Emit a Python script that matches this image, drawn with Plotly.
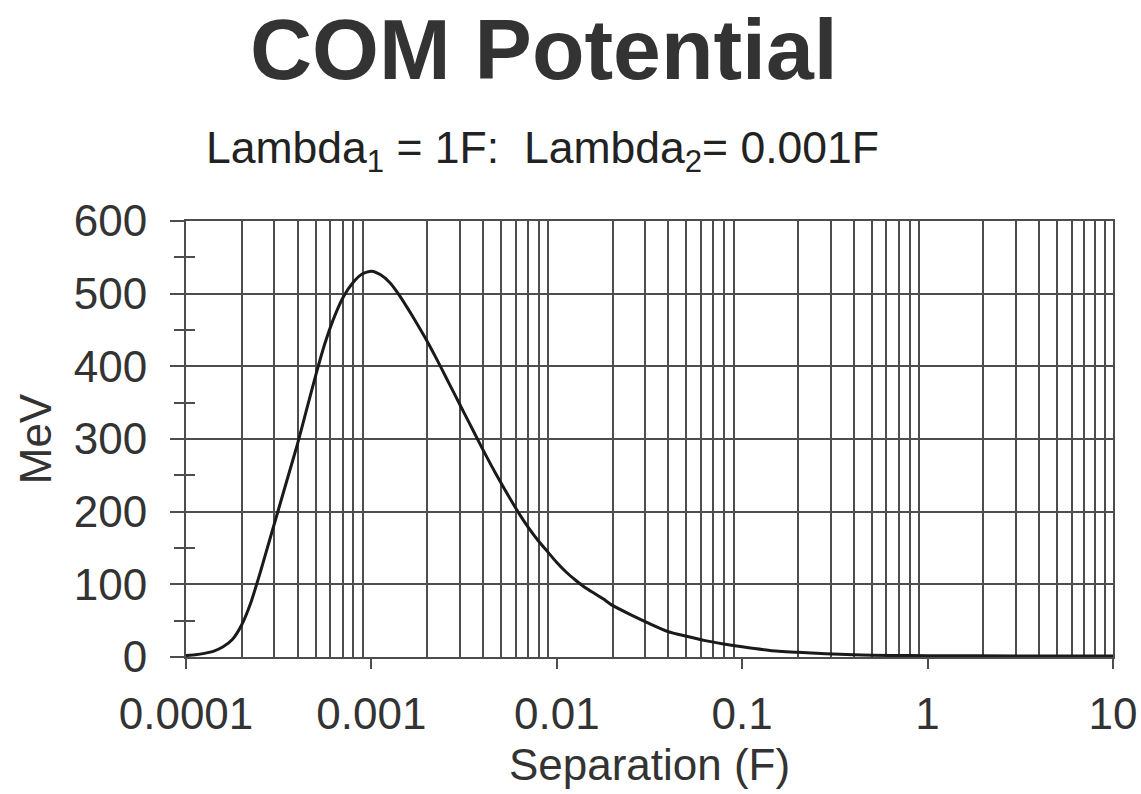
import plotly.graph_objects as go

# Curve (Separation in F, potential in MeV)
separation = [1.000e-4, 1.122e-4, 1.259e-4, 1.413e-4, 1.585e-4, 1.778e-4, 1.995e-4,
              2.239e-4, 2.512e-4, 2.818e-4, 3.162e-4, 3.548e-4, 3.981e-4, 4.467e-4,
              5.012e-4, 5.623e-4, 6.310e-4, 7.079e-4, 7.943e-4, 8.913e-4, 1.000e-3,
              1.122e-3, 1.259e-3, 1.413e-3, 1.585e-3, 1.778e-3, 1.995e-3, 2.239e-3,
              2.512e-3, 2.818e-3, 3.162e-3, 3.548e-3, 3.981e-3, 4.467e-3, 5.012e-3,
              5.623e-3, 6.310e-3, 7.079e-3, 7.943e-3, 8.913e-3, 1.000e-2, 1.122e-2,
              1.259e-2, 1.413e-2, 1.585e-2, 1.778e-2, 1.995e-2, 2.512e-2, 3.162e-2,
              3.981e-2, 5.012e-2, 6.310e-2, 7.943e-2, 0.1000, 0.1413, 0.1995,
              0.2818, 0.3981, 0.6310, 1.0, 3.162, 10.0]
mev = [2, 3, 5, 8, 14, 24, 44,
       75, 116, 160, 204, 248, 292, 340,
       388, 432, 468, 496, 515, 527, 531,
       526, 515, 498, 478, 457, 435, 411,
       386, 361, 336, 311, 286, 262, 239,
       217, 196, 177, 160, 145, 130, 117,
       106, 96, 88, 80, 71, 58, 46,
       35, 28.5, 22.5, 18, 14, 9, 6.5,
       4.5, 3, 2.2, 1.8, 1.5, 1.5]

x_tick_vals = [1e-4, 1e-3, 1e-2, 1e-1, 1, 10]
x_tick_text = ["0.0001", "0.001", "0.01", "0.1", "1", "10"]
y_tick_vals = [0, 100, 200, 300, 400, 500, 600]
y_minor_vals = [50, 150, 250, 350, 450, 550]

title_text = "<b>COM Potential</b>"
subtitle_text = "Lambda<sub>1</sub> = 1F:&nbsp; Lambda<sub>2</sub>= 0.001F"
x_title = "Separation (F)"
y_title = "MeV"

grid_col = "#4d4d4d"
text_col = "#333333"
font_family = "Liberation Sans, Arial, sans-serif"

x_minor_vals = [m * 10.0 ** e for e in range(-4, 1) for m in range(2, 10)]

fig = go.Figure()
fig.add_trace(go.Scatter(
    x=separation, y=mev, mode="lines",
    line=dict(color="#1a1a1a", width=3, shape="spline", smoothing=0.6),
    showlegend=False, hoverinfo="x+y"))
# helper trace so the overlay axis (inside minor tick stubs) is drawn
fig.add_trace(go.Scatter(x=[separation[0]], y=[mev[0]], yaxis="y2", mode="markers",
                         marker=dict(opacity=0), showlegend=False, hoverinfo="skip"))

fig.update_layout(
    width=1141, height=794,
    margin=dict(l=186, r=28, t=221, b=137),
    paper_bgcolor="white", plot_bgcolor="white",
    font=dict(family=font_family, color=text_col, size=44),
    xaxis=dict(
        type="log", range=[-4, 1], automargin=False,
        tickmode="array", tickvals=x_tick_vals, ticktext=x_tick_text,
        showgrid=False, ticks="outside", ticklen=10, tickwidth=2, tickcolor=grid_col,
        showline=True, linecolor=grid_col, linewidth=2, mirror=True, zeroline=False,
        tickfont=dict(size=44, color=text_col), ticklabelstandoff=7,
        minor=dict(tickmode="array", tickvals=x_minor_vals, showgrid=True,
                   gridcolor=grid_col, gridwidth=2, ticks=""),
        title=dict(text=x_title, font=dict(size=44, color=text_col), standoff=12),
    ),
    yaxis=dict(
        range=[0, 600], tickmode="array", tickvals=y_tick_vals, automargin=False,
        showgrid=True, gridcolor=grid_col, gridwidth=2, zeroline=False,
        ticks="outside", ticklen=14, tickwidth=2, tickcolor=grid_col,
        showline=True, linecolor=grid_col, linewidth=2, mirror=True,
        tickfont=dict(size=44, color=text_col), ticklabelstandoff=14,
        minor=dict(tickmode="array", tickvals=y_minor_vals, ticks="outside",
                   ticklen=10, tickwidth=2, tickcolor=grid_col, showgrid=False),
        title=dict(text=y_title, font=dict(size=44, color=text_col), standoff=8),
    ),
    yaxis2=dict(
        overlaying="y", side="left", range=[0, 600], automargin=False,
        tickmode="array", tickvals=y_minor_vals, ticks="inside", ticklen=9,
        tickwidth=2, tickcolor=grid_col, showticklabels=False,
        showgrid=False, zeroline=False, showline=False,
    ),
    annotations=[
        dict(text=title_text, xref="paper", yref="paper", x=0.3862, y=1.394,
             xanchor="center", yanchor="middle", showarrow=False,
             font=dict(size=86, color=text_col, family=font_family)),
        dict(text=subtitle_text, xref="paper", yref="paper", x=0.385, y=1.160,
             xanchor="center", yanchor="middle", showarrow=False,
             font=dict(size=44.5, color="#222222", family=font_family)),
    ],
)

fig.write_html("out.html",
               config={"displayModeBar": False},
               post_script="document.body.style.margin='0';"
                           "document.body.style.overflow='hidden';")
